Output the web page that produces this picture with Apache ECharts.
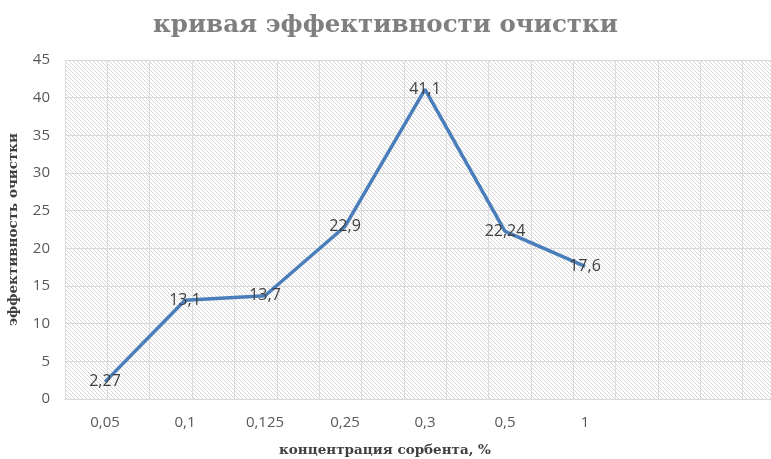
<!DOCTYPE html>
<html><head><meta charset="utf-8">
<script src="https://cdn.jsdelivr.net/npm/echarts@6/dist/echarts.min.js"></script>
<style>html,body{margin:0;padding:0;background:#fff}#c{width:771px;height:459px}</style>
</head><body><div id="c"></div>
<script>
const categories = ['0,05','0,1','0,125','0,25','0,3','0,5','1','',''];
const values = [2.27, 13.1, 13.7, 22.9, 41.1, 22.24, 17.6];
const labels = ['2,27','13,1','13,7','22,9','41,1','22,24','17,6'];
const yTicks = {min:0, max:45, interval:5};
const titleText = 'кривая эффективности очистки';
const xName = 'концентрация сорбента, %';
const yName = 'эффективность очистки';

function hatch(){
  const s = 4, cv = document.createElement('canvas');
  cv.width = s; cv.height = s;
  const g = cv.getContext('2d');
  g.fillStyle = '#ffffff'; g.fillRect(0,0,s,s);
  g.strokeStyle = '#d6d6d6'; g.lineWidth = 1;
  g.beginPath();
  g.moveTo(-1,-1); g.lineTo(s+1,s+1);
  g.moveTo(-1,s-1); g.lineTo(1,s+1);
  g.moveTo(s-1,-1); g.lineTo(s+1,1);
  g.stroke();
  return {image: cv, repeat: 'repeat'};
}
const halfCats = [];
for (let i = 0; i < categories.length*2; i++) halfCats.push(String(i));

const chart = echarts.init(document.getElementById('c'));
chart.setOption({
  animation:false,
  title:{text:titleText, left:'center', top:8,
    textStyle:{fontFamily:'DejaVu Serif', fontWeight:'bold', fontSize:24.5, color:'#7f7f7f'}},
  grid:{left:65, top:60, width:720, height:339, show:true, backgroundColor:hatch(), borderWidth:0,
    outerBoundsMode:'none', containLabel:false},
  xAxis:[{type:'category', data:categories, boundaryGap:true,
    axisLine:{lineStyle:{color:'#d9d9d9', width:1}}, axisTick:{show:false},
    axisLabel:{color:'#595959', fontSize:15, fontFamily:'Open Sans', margin:16},
    splitLine:{show:false},
    name:xName, nameLocation:'middle', nameGap:44,
    nameTextStyle:{fontFamily:'DejaVu Serif', fontWeight:'bold', fontSize:13.5, color:'#404040', padding:[0,80,0,0]}},
   {type:'category', data:halfCats, boundaryGap:false, position:'bottom', show:true,
    axisLine:{show:false}, axisTick:{show:false}, axisLabel:{show:false},
    splitLine:{show:true, lineStyle:{color:'#dcdcdc', width:1}}}],
  yAxis:{type:'value', min:yTicks.min, max:yTicks.max, interval:yTicks.interval,
    axisLine:{show:false}, axisTick:{show:false},
    axisLabel:{color:'#595959', fontSize:15, fontFamily:'Open Sans', margin:15},
    splitLine:{lineStyle:{color:'#d9d9d9', width:1}},
    name:yName, nameLocation:'middle', nameGap:45,
    nameTextStyle:{fontFamily:'DejaVu Serif', fontWeight:'bold', fontSize:13.5, color:'#404040'}},
  series:[{type:'line', data:values, xAxisIndex:0,
    symbol:'circle', symbolSize:0.1, showSymbol:true, itemStyle:{color:'#4a7ebb'},
    lineStyle:{color:'#4a7ebb', width:3.5},
    label:{show:true, position:'inside', color:'#404040', fontSize:16, fontFamily:'Open Sans',
      formatter:p=>labels[p.dataIndex]}}]
});
</script></body></html>
